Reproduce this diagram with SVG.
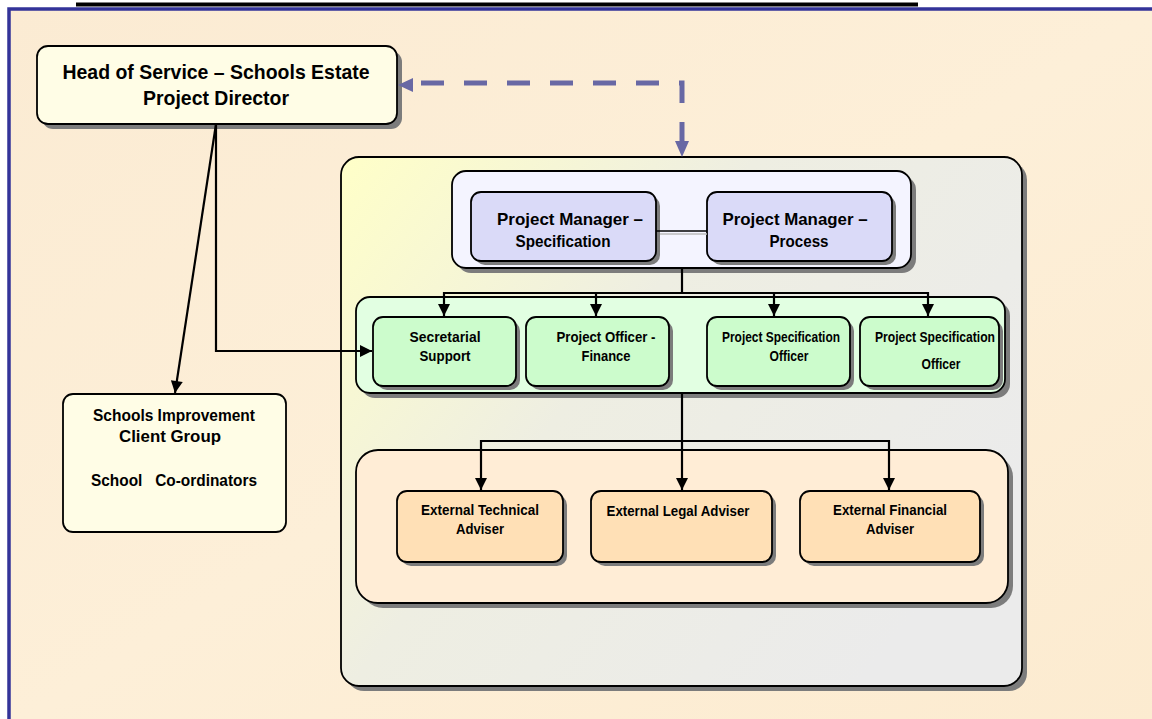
<svg xmlns="http://www.w3.org/2000/svg" width="1152" height="719" viewBox="0 0 1152 719">
<style>
.t{font-family:"Liberation Sans",Arial,sans-serif;font-weight:bold;fill:#000;text-anchor:middle}
.box{stroke:#000;stroke-width:1.8}
.sh{fill:#7C7C7C}
.ln{stroke:#000;stroke-width:2.2;fill:none}
.dash{stroke:#6868A4;stroke-width:5;fill:none;stroke-dasharray:23 20}
</style>
<defs>
<marker id="ab" viewBox="0 0 10 10" refX="10" refY="5" markerWidth="13" markerHeight="12" orient="auto" markerUnits="userSpaceOnUse">
<path d="M0,0 L10,5 L0,10 z" fill="#000"/>
</marker>
<linearGradient id="cg" x1="0" y1="0" x2="1" y2="0.6">
<stop offset="0" stop-color="#FFFFC8"/>
<stop offset="0.45" stop-color="#EEEEE2"/>
<stop offset="1" stop-color="#EBEBEB"/>
</linearGradient>
<linearGradient id="bg" x1="0" y1="0" x2="1" y2="1">
<stop offset="0" stop-color="#FBEBD3"/>
<stop offset="0.5" stop-color="#FDEFD8"/>
<stop offset="1" stop-color="#FCEBD0"/>
</linearGradient>
<clipPath id="c4"><rect x="860" y="317" width="139" height="69" rx="10"/></clipPath>
</defs>
<rect x="0" y="0" width="1152" height="719" fill="#fff"/>
<rect x="9" y="9" width="1150" height="720" fill="url(#bg)" stroke="#333399" stroke-width="3.5"/>
<rect x="76" y="2.5" width="842" height="4" fill="#000"/>

<g id="container">
<rect class="sh" x="346" y="162" width="681" height="529" rx="18"/>
<rect class="box" x="341" y="157" width="681" height="529" rx="18" fill="url(#cg)"/>
</g>

<g id="head">
<rect class="sh" x="42" y="51" width="360" height="78" rx="11"/>
<rect class="box" x="37" y="46" width="360" height="78" rx="11" fill="#FFFDE6"/>
<text class="t" x="216" y="79" font-size="21" textLength="307" lengthAdjust="spacingAndGlyphs">Head of Service – Schools Estate</text>
<text class="t" x="216" y="105" font-size="21" textLength="146" lengthAdjust="spacingAndGlyphs">Project Director</text>
</g>

<g id="client">
<rect class="box" x="63" y="394" width="223" height="138" rx="10" fill="#FFFDE6"/>
<text class="t" x="174" y="421" font-size="17" textLength="162" lengthAdjust="spacingAndGlyphs">Schools Improvement</text>
<text class="t" x="170" y="442" font-size="17" textLength="102" lengthAdjust="spacingAndGlyphs">Client Group</text>
<text class="t" x="174" y="486" font-size="17" textLength="166" lengthAdjust="spacingAndGlyphs" xml:space="preserve">School   Co-ordinators</text>
</g>

<g id="pm-group">
<rect class="sh" x="457" y="176" width="459" height="97" rx="14"/>
<rect class="box" x="452" y="171" width="459" height="97" rx="14" fill="#F4F4FF"/>
</g>
<g id="pm-spec">
<rect class="sh" x="475" y="196" width="185" height="69" rx="10"/>
<rect class="box" x="471" y="192" width="185" height="69" rx="10" fill="#DADAF8"/>
<text class="t" x="570" y="225" font-size="17" textLength="146" lengthAdjust="spacingAndGlyphs">Project Manager –</text>
<text class="t" x="563" y="247" font-size="17" textLength="95" lengthAdjust="spacingAndGlyphs">Specification</text>
</g>
<g id="pm-process">
<rect class="sh" x="711" y="196" width="185" height="69" rx="10"/>
<rect class="box" x="707" y="192" width="185" height="69" rx="10" fill="#DADAF8"/>
<text class="t" x="795" y="225" font-size="17" textLength="145" lengthAdjust="spacingAndGlyphs">Project Manager –</text>
<text class="t" x="799" y="247" font-size="17" textLength="59" lengthAdjust="spacingAndGlyphs">Process</text>
</g>

<g id="staff-group">
<rect class="sh" x="361" y="302" width="649" height="96" rx="14"/>
<rect class="box" x="356" y="297" width="649" height="96" rx="14" fill="#E2FFE2"/>
</g>
<g id="secretarial">
<rect class="sh" x="377" y="321" width="143" height="69" rx="10"/>
<rect class="box" x="373" y="317" width="143" height="69" rx="10" fill="#CCFCCC"/>
<text class="t" x="445" y="342" font-size="15" textLength="71" lengthAdjust="spacingAndGlyphs">Secretarial</text>
<text class="t" x="445" y="361" font-size="15" textLength="51" lengthAdjust="spacingAndGlyphs">Support</text>
</g>
<g id="finance">
<rect class="sh" x="530" y="321" width="143" height="69" rx="10"/>
<rect class="box" x="526" y="317" width="143" height="69" rx="10" fill="#CCFCCC"/>
<text class="t" x="606" y="342" font-size="15" textLength="99" lengthAdjust="spacingAndGlyphs">Project Officer -</text>
<text class="t" x="606" y="361" font-size="15" textLength="49" lengthAdjust="spacingAndGlyphs">Finance</text>
</g>
<g id="spec-officer-1">
<rect class="sh" x="711" y="321" width="143" height="69" rx="10"/>
<rect class="box" x="707" y="317" width="143" height="69" rx="10" fill="#CCFCCC"/>
<text class="t" x="781" y="342" font-size="15" textLength="118" lengthAdjust="spacingAndGlyphs">Project Specification</text>
<text class="t" x="789" y="361" font-size="15" textLength="39" lengthAdjust="spacingAndGlyphs">Officer</text>
</g>
<g id="spec-officer-2">
<rect class="sh" x="864" y="321" width="139" height="69" rx="10"/>
<rect class="box" x="860" y="317" width="139" height="69" rx="10" fill="#CCFCCC"/>
<g clip-path="url(#c4)">
<text class="t" x="935" y="342" font-size="15" textLength="120" lengthAdjust="spacingAndGlyphs">Project Specification</text>
</g>
<text class="t" x="941" y="369" font-size="15" textLength="39" lengthAdjust="spacingAndGlyphs">Officer</text>
</g>

<g id="ext-group">
<rect class="sh" x="361" y="455" width="652" height="153" rx="22"/>
<rect class="box" x="356" y="450" width="652" height="153" rx="22" fill="#FFEDD6"/>
</g>
<g id="ext-technical">
<rect class="sh" x="401" y="495" width="166" height="71" rx="10"/>
<rect class="box" x="397" y="491" width="166" height="71" rx="10" fill="#FFE0B6"/>
<text class="t" x="480" y="515" font-size="15" textLength="118" lengthAdjust="spacingAndGlyphs">External Technical</text>
<text class="t" x="480" y="534" font-size="15" textLength="48" lengthAdjust="spacingAndGlyphs">Adviser</text>
</g>
<g id="ext-legal">
<rect class="sh" x="595" y="495" width="181" height="71" rx="10"/>
<rect class="box" x="591" y="491" width="181" height="71" rx="10" fill="#FFE0B6"/>
<text class="t" x="678" y="516" font-size="15" textLength="143" lengthAdjust="spacingAndGlyphs">External Legal Adviser</text>
</g>
<g id="ext-financial">
<rect class="sh" x="804" y="495" width="180" height="71" rx="10"/>
<rect class="box" x="800" y="491" width="180" height="71" rx="10" fill="#FFE0B6"/>
<text class="t" x="890" y="515" font-size="15" textLength="114" lengthAdjust="spacingAndGlyphs">External Financial</text>
<text class="t" x="890" y="534" font-size="15" textLength="48" lengthAdjust="spacingAndGlyphs">Adviser</text>
</g>

<g id="connectors">
<line x1="656" y1="231" x2="707" y2="231" stroke="#000" stroke-width="1.5"/>
<line x1="660" y1="234" x2="707" y2="234" stroke="#BBBBBB" stroke-width="1.5"/>
<path class="ln" d="M682,268 V293"/>
<path class="ln" d="M444,293 H928"/>
<path class="ln" d="M444,292 V316" marker-end="url(#ab)"/>
<path class="ln" d="M596,292 V316" marker-end="url(#ab)"/>
<path class="ln" d="M774,292 V316" marker-end="url(#ab)"/>
<path class="ln" d="M928,292 V316" marker-end="url(#ab)"/>
<path class="ln" d="M682,393 V441"/>
<path class="ln" d="M481,441 H889"/>
<path class="ln" d="M481,440 V490" marker-end="url(#ab)"/>
<path class="ln" d="M682,440 V490" marker-end="url(#ab)"/>
<path class="ln" d="M889,440 V490" marker-end="url(#ab)"/>
<path class="ln" d="M216,124 V351 H372" marker-end="url(#ab)"/>
<path class="ln" d="M216,124 L175,393" stroke-width="3.2" marker-end="url(#ab)"/>
<path class="dash" d="M682,103 V83 H413"/>
<path d="M413,78 L398,85 L413,92 z" fill="#6868A4"/>
<path class="dash" d="M682,122 V142" stroke-dasharray="none"/>
<path d="M675,141 L682,157 L689,141 z" fill="#6868A4"/>
</g>
</svg>
